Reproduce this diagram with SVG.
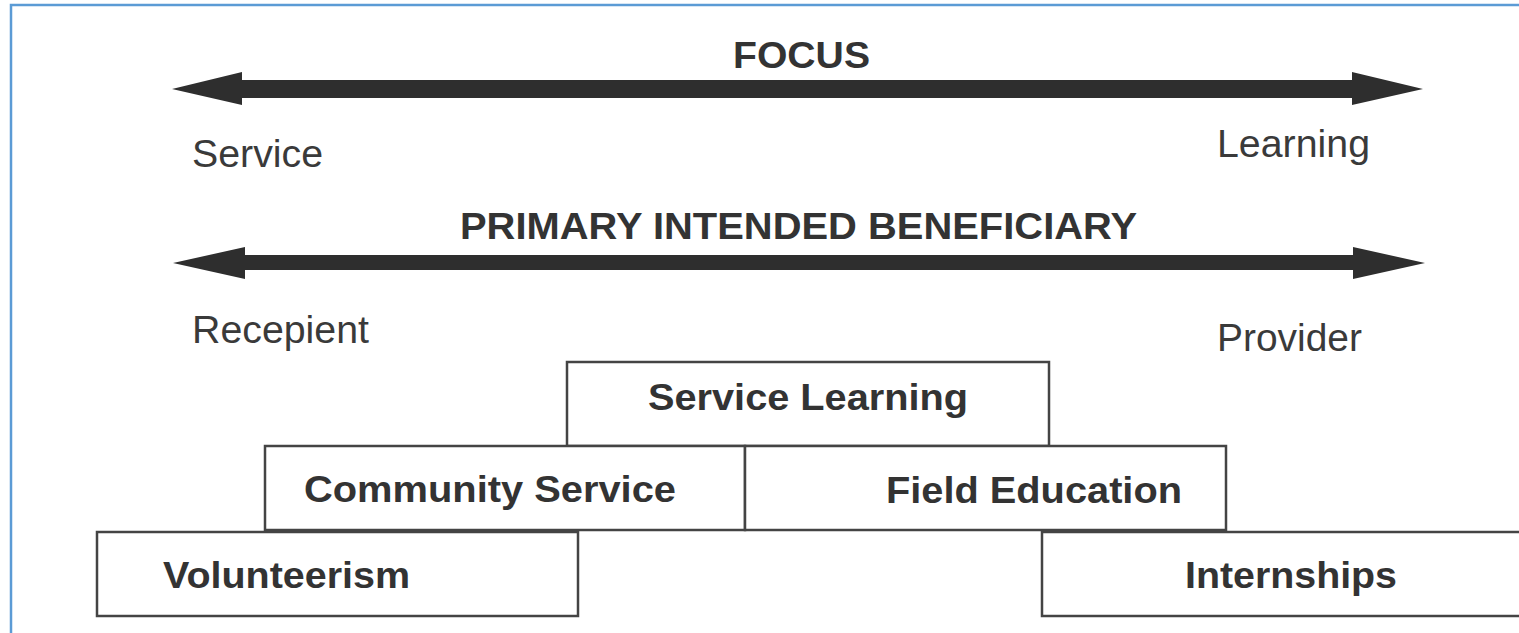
<svg xmlns="http://www.w3.org/2000/svg" width="1519" height="633" viewBox="0 0 1519 633">
<style>
.frame{fill:none;stroke:#5b9bd5;stroke-width:2.5}
.box{fill:#fff;stroke:#444;stroke-width:2.5}
.bt{font-family:"Liberation Sans",Arial,sans-serif;font-weight:bold;font-size:37px;fill:#333}
.rt{font-family:"Liberation Sans",Arial,sans-serif;font-size:38px;fill:#3a3a3a}
.arr{fill:#2e2e2e}
</style>
<rect width="1519" height="633" fill="#fff"/>
<rect class="frame" x="11" y="5" width="1530" height="650"/>
<g id="connectors">
<polygon class="arr" points="172,89 242,72 242,80 1352,80 1352,72 1423,89 1352,105 1352,98 242,98 242,105"/>
<polygon class="arr" points="173,263 245,247 245,255 1353,255 1353,247 1425,263 1353,279 1353,270 245,270 245,279"/>
</g>
<g id="labels">
<text class="bt" x="733" y="68" textLength="137" lengthAdjust="spacingAndGlyphs">FOCUS</text>
<text class="rt" x="192" y="167" textLength="131" lengthAdjust="spacingAndGlyphs">Service</text>
<text class="rt" x="1217" y="157" textLength="153" lengthAdjust="spacingAndGlyphs">Learning</text>
<text class="bt" x="460" y="239" textLength="677" lengthAdjust="spacingAndGlyphs">PRIMARY INTENDED BENEFICIARY</text>
<text class="rt" x="192" y="343" textLength="177" lengthAdjust="spacingAndGlyphs">Recepient</text>
<text class="rt" x="1217" y="351" textLength="145" lengthAdjust="spacingAndGlyphs">Provider</text>
</g>
<g id="service-learning">
<rect class="box" x="567" y="362" width="482" height="84"/>
<text class="bt" x="648" y="410" textLength="320" lengthAdjust="spacingAndGlyphs">Service Learning</text>
</g>
<g id="community-service">
<rect class="box" x="265" y="446" width="480" height="84"/>
<text class="bt" x="304" y="502" textLength="372" lengthAdjust="spacingAndGlyphs">Community Service</text>
</g>
<g id="field-education">
<rect class="box" x="745" y="446" width="481" height="84"/>
<text class="bt" x="886" y="503" textLength="296" lengthAdjust="spacingAndGlyphs">Field Education</text>
</g>
<g id="volunteerism">
<rect class="box" x="97" y="532" width="481" height="84"/>
<text class="bt" x="163" y="588" textLength="247" lengthAdjust="spacingAndGlyphs">Volunteerism</text>
</g>
<g id="internships">
<rect class="box" x="1042" y="532" width="500" height="84"/>
<text class="bt" x="1185" y="588" textLength="212" lengthAdjust="spacingAndGlyphs">Internships</text>
</g>
</svg>
